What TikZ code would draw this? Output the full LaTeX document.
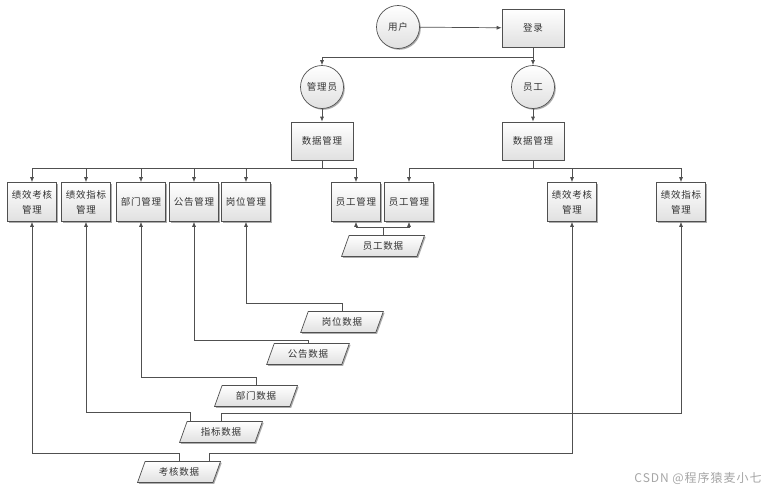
\documentclass[tikz,border=0pt]{standalone}
\usepackage{fontspec}
\setmainfont{Noto Sans CJK SC}[LetterSpace=8]
\usepackage{xcolor}
\usetikzlibrary{arrows.meta,shapes.geometric,shadows}

\definecolor{linegray}{HTML}{505050}
\definecolor{textgray}{HTML}{333333}

\begin{document}
\begin{tikzpicture}[x=1pt, y=-1pt,
    every node/.style={font=\fontsize{9.5}{15}\selectfont, text=textgray},
    fillbox/.style={draw=linegray, line width=0.7pt, top color=white, bottom color=black!12,
      drop shadow={shadow xshift=1.3pt, shadow yshift=-1.3pt, fill=black!40, opacity=0.8}},
    box/.style={fillbox, rectangle, minimum width=49pt, minimum height=39pt, inner sep=1pt, align=center},
    bigbox/.style={box, minimum width=62pt, minimum height=38pt},
    circ/.style={fillbox, circle, minimum size=43pt, inner sep=0pt},
    datafile/.style={fillbox, trapezium, trapezium left angle=63, trapezium right angle=117,
      trapezium stretches=true, minimum width=83pt, minimum height=21pt, inner sep=0pt},
    line/.style={draw=linegray, line width=0.7pt},
    ->/.style={line, -{Latex[length=5pt,width=4pt]}}]

    \useasboundingbox[fill=white] (0,0) rectangle (776,490);

    % top part
    \node[circ] (user) at (398,27) {用户};
    \node[bigbox] (login) at (533,28) {登录};
    \node[circ] (admin) at (322,87) {管理员};
    \node[circ] (staff) at (533,87) {员工};
    \node[bigbox] (adata) at (322,141) {数据管理};
    \node[bigbox] (sdata) at (533,141) {数据管理};

    % second row
    \node[box] (kh1) at (32,202) {绩效考核\\管理};
    \node[box] (zb1) at (86,202) {绩效指标\\管理};
    \node[box] (bm) at (141,202) {部门管理};
    \node[box] (gg) at (194,202) {公告管理};
    \node[box] (gw) at (246,202) {岗位管理};
    \node[box] (yg1) at (356,202) {员工管理};
    \node[box] (yg2) at (409,202) {员工管理};
    \node[box] (kh2) at (572,202) {绩效考核\\管理};
    \node[box] (zb2) at (681,202) {绩效指标\\管理};

    % data stores
    \node[datafile] (ygdata) at (383,246) {员工数据};
    \node[datafile] (gwdata) at (342,322) {岗位数据};
    \node[datafile] (ggdata) at (308,354) {公告数据};
    \node[datafile] (bmdata) at (256,396) {部门数据};
    \node[datafile] (zbdata) at (221,432) {指标数据};
    \node[datafile] (khdata) at (179,472) {考核数据};

    \node[font=\fontsize{12}{14}\selectfont, text=black!35] (mark) at (698,478) {CSDN @程序猿麦小七};

    % bend points
    \coordinate (split) at (533,57);
    \coordinate (abus) at (322,168);
    \coordinate (sbus) at (533,168);
    \coordinate (ygj) at (383,227);
    \coordinate (gwj) at (342,303);
    \coordinate (ggj) at (308,340);
    \coordinate (bmj) at (256,377);
    \coordinate (zbl) at (190,412);
    \coordinate (zbr) at (221,413);
    \coordinate (khl) at (179,453);
    \coordinate (khr) at (209,453);

    \draw [->] (user) to (login);
    \draw [line] (login) to (split);
    \draw [->] (split) -| (admin);
    \draw [->] (split) to (staff);
    \draw [->] (admin) to (adata);
    \draw [->] (staff) to (sdata);

    \draw [line] (adata) to (abus);
    \foreach \n in {kh1,zb1,bm,gg,gw,yg1}
      \draw [->] (abus) -| (\n);
    \draw [line] (sdata) to (sbus);
    \foreach \n in {yg2,kh2,zb2}
      \draw [->] (sbus) -| (\n);

    \draw [line] (ygdata) to (ygj);
    \draw [->] (ygj) -| (yg1);
    \draw [->] (ygj) -| (yg2);

    \draw [->] (gwdata) -- (gwj) -| (gw);
    \draw [->] (ggdata) -- (ggj) -| (gg);
    \draw [->] (bmdata) -- (bmj) -| (bm);
    \draw [->] (zbdata.north -| zbl) -- (zbl) -| (zb1);
    \draw [->] (zbdata) -- (zbr) -| (zb2);
    \draw [->] (khdata) -- (khl) -| (kh1);
    \draw [->] (khdata.north -| khr) -- (khr) -| (kh2);

  \end{tikzpicture}
\end{document}
